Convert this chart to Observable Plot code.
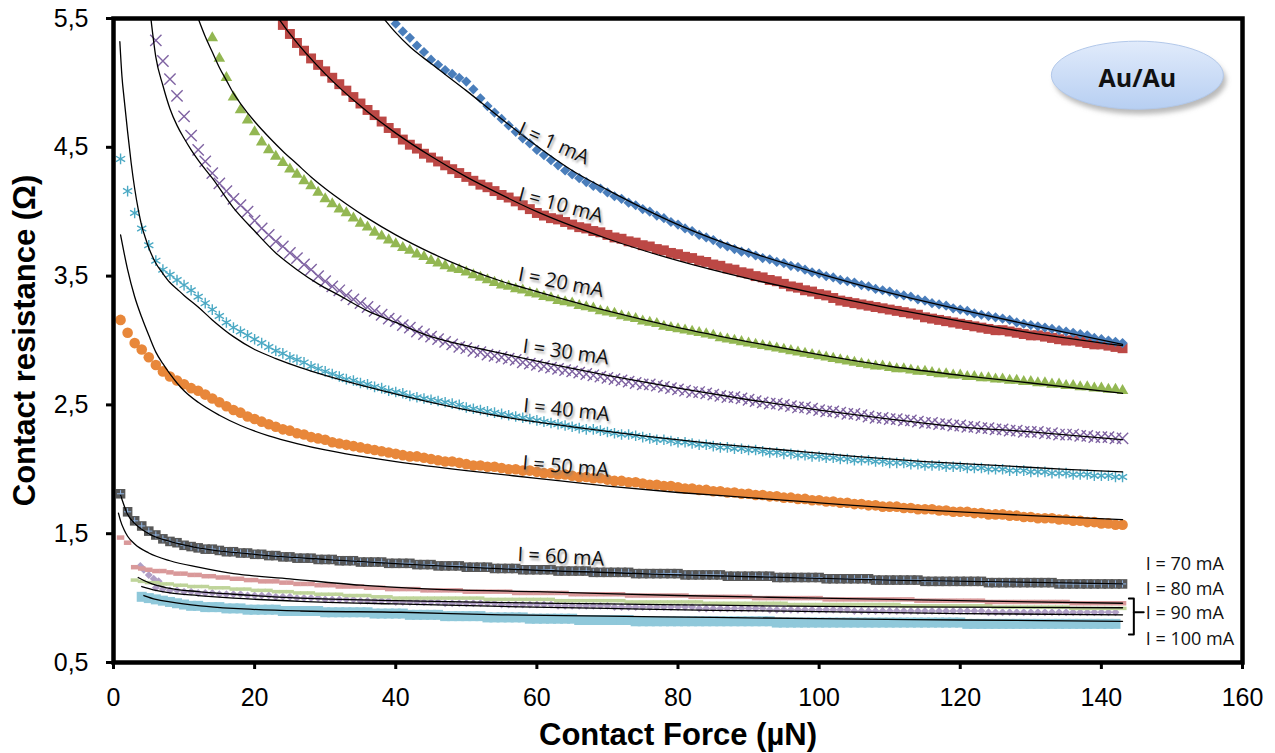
<!DOCTYPE html>
<html><head><meta charset="utf-8">
<script src="https://cdn.jsdelivr.net/npm/d3@7"></script>
<script src="https://cdn.jsdelivr.net/npm/@observablehq/plot@0.6"></script>
<style>body{margin:0;background:#fff;}#chart{width:1275px;height:753px;}</style>
</head><body><div id="chart"></div>
<script>
// ---- axis ticks ----
const xTicks = [0, 20, 40, 60, 80, 100, 120, 140, 160];
const yTicks = [0.5, 1.5, 2.5, 3.5, 4.5, 5.5];
const yTickLabels = ["0,5", "1,5", "2,5", "3,5", "4,5", "5,5"];

// ---- measured series (y values at 1 µN steps from the start force) ----
const s1Start = 40;   // I = 1 mA
const s1 = [5.46,5.40,5.35,5.29,5.24,5.18,5.14,5.10,5.07,5.04,5.01,4.95,4.88,4.82,4.77,4.72,4.67,4.62,4.57,4.53,4.48,4.44,4.40,4.36,4.32,4.29,4.26,4.23,4.20,4.18,4.15,4.12,4.10,4.07,4.05,4.02,4.00,3.97,3.95,3.92,3.90,3.87,3.85,3.82,3.80,3.78,3.75,3.73,3.71,3.69,3.68,3.66,3.64,3.63,3.61,3.60,3.58,3.57,3.55,3.53,3.52,3.50,3.49,3.47,3.46,3.45,3.43,3.42,3.40,3.39,3.38,3.36,3.35,3.34,3.32,3.31,3.29,3.28,3.27,3.25,3.24,3.23,3.21,3.20,3.19,3.18,3.17,3.16,3.14,3.13,3.12,3.11,3.10,3.09,3.08,3.07,3.06,3.05,3.04,3.02,3.01,3.00,2.99,2.98];
const s10Start = 24;  // I = 10 mA
const s10 = [5.45,5.38,5.31,5.25,5.19,5.14,5.09,5.04,4.99,4.94,4.89,4.84,4.79,4.75,4.70,4.65,4.61,4.56,4.52,4.49,4.45,4.42,4.39,4.36,4.33,4.30,4.27,4.24,4.21,4.19,4.16,4.13,4.11,4.08,4.05,4.02,3.99,3.97,3.95,3.94,3.92,3.90,3.88,3.87,3.85,3.84,3.82,3.80,3.79,3.77,3.76,3.74,3.73,3.71,3.70,3.68,3.67,3.65,3.64,3.62,3.61,3.59,3.58,3.56,3.55,3.53,3.52,3.50,3.49,3.47,3.46,3.44,3.42,3.41,3.39,3.38,3.36,3.35,3.33,3.31,3.30,3.29,3.28,3.27,3.26,3.25,3.24,3.23,3.22,3.21,3.20,3.18,3.17,3.16,3.15,3.14,3.13,3.12,3.11,3.10,3.09,3.08,3.08,3.07,3.06,3.05,3.04,3.04,3.03,3.02,3.01,3.00,3.00,2.99,2.98,2.97,2.97,2.96,2.95,2.94];
const s20Start = 14;  // I = 20 mA
const s20 = [5.35,5.19,5.04,4.89,4.79,4.71,4.62,4.54,4.48,4.43,4.38,4.33,4.29,4.24,4.20,4.15,4.10,4.06,4.02,3.99,3.95,3.91,3.88,3.84,3.81,3.78,3.75,3.72,3.70,3.67,3.65,3.62,3.60,3.58,3.56,3.55,3.53,3.51,3.49,3.47,3.45,3.43,3.42,3.40,3.39,3.37,3.36,3.34,3.33,3.31,3.30,3.29,3.27,3.26,3.25,3.23,3.22,3.21,3.19,3.18,3.17,3.15,3.14,3.13,3.11,3.10,3.09,3.08,3.07,3.06,3.05,3.04,3.02,3.01,3.00,2.99,2.98,2.97,2.96,2.95,2.94,2.93,2.92,2.91,2.90,2.89,2.88,2.87,2.86,2.85,2.84,2.83,2.82,2.81,2.80,2.80,2.79,2.78,2.78,2.77,2.76,2.76,2.75,2.74,2.74,2.73,2.73,2.72,2.72,2.71,2.71,2.70,2.70,2.69,2.69,2.68,2.68,2.67,2.67,2.66,2.66,2.65,2.65,2.64,2.64,2.63,2.63,2.62,2.62,2.61];
const s30Start = 6;   // I = 30 mA
const s30 = [5.33,5.17,5.03,4.90,4.74,4.59,4.48,4.39,4.30,4.22,4.16,4.10,4.05,4.00,3.93,3.87,3.82,3.77,3.73,3.68,3.64,3.59,3.55,3.50,3.46,3.42,3.39,3.35,3.32,3.29,3.26,3.23,3.20,3.17,3.15,3.12,3.10,3.07,3.05,3.03,3.01,2.99,2.97,2.95,2.94,2.92,2.91,2.89,2.88,2.87,2.86,2.85,2.83,2.82,2.81,2.80,2.79,2.78,2.77,2.76,2.75,2.74,2.73,2.72,2.71,2.70,2.69,2.68,2.67,2.66,2.66,2.65,2.64,2.63,2.62,2.61,2.60,2.60,2.59,2.58,2.57,2.56,2.56,2.55,2.54,2.53,2.52,2.51,2.51,2.50,2.49,2.48,2.48,2.47,2.46,2.45,2.45,2.44,2.43,2.43,2.42,2.41,2.40,2.40,2.39,2.39,2.38,2.38,2.37,2.36,2.36,2.35,2.35,2.34,2.34,2.33,2.33,2.32,2.32,2.31,2.31,2.30,2.30,2.29,2.29,2.29,2.28,2.28,2.27,2.27,2.27,2.26,2.26,2.25,2.25,2.25,2.24,2.24];
const s40Start = 1;   // I = 40 mA
const s40 = [4.41,4.16,3.99,3.87,3.74,3.62,3.55,3.51,3.47,3.43,3.39,3.34,3.29,3.24,3.19,3.14,3.10,3.07,3.04,3.01,2.98,2.95,2.92,2.90,2.87,2.85,2.83,2.80,2.78,2.76,2.74,2.72,2.70,2.69,2.67,2.66,2.64,2.63,2.61,2.60,2.59,2.57,2.56,2.55,2.54,2.53,2.52,2.51,2.50,2.48,2.47,2.46,2.45,2.44,2.43,2.42,2.41,2.40,2.39,2.38,2.37,2.36,2.35,2.34,2.33,2.32,2.31,2.31,2.30,2.29,2.28,2.27,2.27,2.26,2.25,2.24,2.23,2.23,2.22,2.21,2.21,2.20,2.19,2.19,2.18,2.17,2.17,2.16,2.16,2.15,2.15,2.14,2.13,2.13,2.12,2.12,2.11,2.11,2.10,2.10,2.09,2.09,2.08,2.08,2.07,2.07,2.07,2.06,2.06,2.05,2.05,2.05,2.04,2.04,2.03,2.03,2.03,2.02,2.02,2.02,2.01,2.01,2.01,2.00,2.00,2.00,1.99,1.99,1.99,1.98,1.98,1.98,1.97,1.97,1.97,1.96,1.96,1.96,1.95,1.95,1.95,1.94,1.94];
const s50Start = 1;   // I = 50 mA
const s50 = [3.16,3.06,2.98,2.93,2.87,2.81,2.76,2.72,2.69,2.66,2.63,2.61,2.58,2.55,2.52,2.49,2.46,2.44,2.41,2.39,2.37,2.35,2.33,2.31,2.30,2.28,2.27,2.25,2.24,2.23,2.21,2.20,2.19,2.18,2.17,2.16,2.15,2.14,2.13,2.12,2.11,2.10,2.10,2.09,2.08,2.07,2.06,2.06,2.05,2.04,2.03,2.03,2.02,2.02,2.01,2.00,2.00,1.99,1.99,1.98,1.97,1.97,1.96,1.96,1.95,1.94,1.94,1.93,1.93,1.92,1.91,1.91,1.90,1.90,1.89,1.88,1.88,1.87,1.87,1.86,1.85,1.85,1.84,1.84,1.83,1.83,1.82,1.82,1.81,1.81,1.80,1.80,1.79,1.79,1.78,1.78,1.77,1.77,1.76,1.76,1.75,1.75,1.74,1.74,1.73,1.73,1.72,1.72,1.71,1.71,1.71,1.70,1.70,1.69,1.69,1.69,1.68,1.68,1.67,1.67,1.67,1.66,1.66,1.65,1.65,1.65,1.64,1.64,1.63,1.63,1.62,1.62,1.62,1.61,1.61,1.60,1.60,1.59,1.59,1.58,1.58,1.57,1.57];
const s60Start = 1;   // I = 60 mA
const s60 = [1.81,1.67,1.60,1.56,1.52,1.49,1.46,1.44,1.43,1.41,1.40,1.39,1.38,1.38,1.37,1.36,1.36,1.35,1.35,1.34,1.34,1.33,1.33,1.32,1.32,1.31,1.31,1.31,1.30,1.30,1.30,1.29,1.29,1.29,1.28,1.28,1.28,1.28,1.27,1.27,1.27,1.27,1.26,1.26,1.26,1.25,1.25,1.25,1.25,1.24,1.24,1.24,1.24,1.23,1.23,1.23,1.23,1.22,1.22,1.22,1.22,1.22,1.21,1.21,1.21,1.21,1.21,1.20,1.20,1.20,1.20,1.20,1.20,1.19,1.19,1.19,1.19,1.19,1.19,1.19,1.18,1.18,1.18,1.18,1.18,1.18,1.17,1.17,1.17,1.17,1.17,1.17,1.17,1.16,1.16,1.16,1.16,1.16,1.16,1.16,1.15,1.15,1.15,1.15,1.15,1.15,1.15,1.14,1.14,1.14,1.14,1.14,1.14,1.14,1.13,1.13,1.13,1.13,1.13,1.13,1.13,1.13,1.13,1.12,1.12,1.12,1.12,1.12,1.12,1.12,1.12,1.12,1.12,1.11,1.11,1.11,1.11,1.11,1.11,1.11,1.11,1.11,1.11];
const s70Start = 1;   // I = 70 mA
const s70 = [1.47,1.43,1.24,1.23,1.22,1.21,1.21,1.20,1.19,1.19,1.18,1.18,1.17,1.17,1.16,1.16,1.15,1.15,1.14,1.14,1.13,1.13,1.13,1.12,1.12,1.11,1.11,1.11,1.10,1.10,1.10,1.09,1.09,1.09,1.09,1.08,1.08,1.08,1.07,1.07,1.07,1.07,1.07,1.06,1.06,1.06,1.06,1.06,1.06,1.05,1.05,1.05,1.05,1.05,1.05,1.05,1.04,1.04,1.04,1.04,1.04,1.04,1.04,1.04,1.03,1.03,1.03,1.03,1.03,1.03,1.03,1.03,1.02,1.02,1.02,1.02,1.02,1.02,1.02,1.02,1.02,1.01,1.01,1.01,1.01,1.01,1.01,1.01,1.01,1.01,1.00,1.00,1.00,1.00,1.00,1.00,1.00,1.00,1.00,1.00,0.99,0.99,0.99,0.99,0.99,0.99,0.99,0.99,0.99,0.99,0.99,0.99,0.99,0.98,0.98,0.98,0.98,0.98,0.98,0.98,0.98,0.98,0.98,0.97,0.97,0.97,0.97,0.97,0.97,0.97,0.97,0.97,0.97,0.97,0.97,0.96,0.96,0.96,0.96,0.96,0.96,0.96,0.96];
const s80Start = 3;   // I = 80 mA
const s80 = [1.14,1.13,1.12,1.12,1.11,1.11,1.10,1.10,1.09,1.09,1.09,1.08,1.08,1.08,1.07,1.07,1.07,1.06,1.06,1.06,1.05,1.05,1.05,1.04,1.04,1.04,1.03,1.03,1.03,1.03,1.02,1.02,1.02,1.02,1.01,1.01,1.01,1.00,1.00,1.00,1.00,1.00,1.00,1.00,1.00,1.00,1.00,1.00,1.00,1.00,0.99,0.99,0.99,0.99,0.99,0.99,0.99,0.99,0.99,0.99,0.98,0.98,0.98,0.98,0.98,0.98,0.98,0.98,0.98,0.98,0.97,0.97,0.97,0.97,0.97,0.97,0.97,0.97,0.97,0.97,0.97,0.96,0.96,0.96,0.96,0.96,0.96,0.96,0.96,0.96,0.96,0.96,0.96,0.95,0.95,0.95,0.95,0.95,0.95,0.95,0.95,0.95,0.95,0.95,0.95,0.95,0.95,0.95,0.95,0.94,0.94,0.94,0.94,0.94,0.94,0.94,0.94,0.94,0.94,0.94,0.94,0.94,0.93,0.93,0.93,0.93,0.93,0.93,0.93,0.93,0.93,0.93,0.93,0.92,0.92,0.92,0.92,0.92,0.92,0.92,0.92];
const s90HeadX = [3.8, 4.3, 5.0, 5.7, 6.4];  // I = 90 mA, first readings
const s90HeadY = [1.25, 1.22, 1.18, 1.15, 1.13];
const s90Start = 6;
const s90 = [1.08,1.07,1.06,1.06,1.05,1.05,1.04,1.04,1.04,1.03,1.03,1.03,1.03,1.02,1.02,1.02,1.02,1.01,1.01,1.01,1.00,1.00,1.00,1.00,0.99,0.99,0.99,0.99,0.99,0.98,0.98,0.98,0.98,0.98,0.97,0.97,0.97,0.97,0.97,0.97,0.97,0.96,0.96,0.96,0.96,0.96,0.96,0.96,0.96,0.95,0.95,0.95,0.95,0.95,0.95,0.95,0.95,0.94,0.94,0.94,0.94,0.94,0.94,0.94,0.94,0.93,0.93,0.93,0.93,0.93,0.93,0.93,0.93,0.93,0.93,0.93,0.93,0.92,0.92,0.92,0.92,0.92,0.92,0.92,0.92,0.92,0.92,0.91,0.91,0.91,0.91,0.91,0.91,0.91,0.91,0.91,0.91,0.91,0.91,0.90,0.90,0.90,0.90,0.90,0.90,0.90,0.90,0.90,0.90,0.90,0.90,0.90,0.90,0.90,0.90,0.90,0.90,0.90,0.89,0.89,0.89,0.89,0.89,0.89,0.89,0.89,0.89,0.89,0.89,0.89,0.89,0.89,0.89,0.89,0.89,0.89,0.89];
const s100Start = 4;  // I = 100 mA
const s100 = [1.01,1.00,0.99,0.98,0.97,0.96,0.95,0.94,0.94,0.93,0.93,0.93,0.92,0.92,0.92,0.91,0.91,0.91,0.91,0.91,0.90,0.90,0.90,0.90,0.90,0.90,0.89,0.89,0.89,0.89,0.89,0.89,0.89,0.88,0.88,0.88,0.88,0.88,0.87,0.87,0.87,0.87,0.87,0.86,0.86,0.86,0.86,0.86,0.86,0.85,0.85,0.85,0.85,0.85,0.85,0.84,0.84,0.84,0.84,0.84,0.84,0.84,0.83,0.83,0.83,0.83,0.83,0.83,0.83,0.83,0.82,0.82,0.82,0.82,0.82,0.82,0.82,0.82,0.82,0.82,0.82,0.82,0.82,0.82,0.82,0.82,0.82,0.82,0.82,0.82,0.81,0.81,0.81,0.81,0.81,0.81,0.81,0.81,0.81,0.81,0.81,0.81,0.81,0.81,0.81,0.81,0.81,0.81,0.81,0.81,0.81,0.81,0.81,0.81,0.81,0.81,0.81,0.80,0.80,0.80,0.80,0.80,0.80,0.80,0.80,0.80,0.80,0.80,0.80,0.80,0.80,0.80,0.80,0.80,0.80,0.80,0.80,0.80,0.80];

// ---- fitted curves (force, resistance) ----
const f1X = [38.3,40,42,45,50,55,60,65,70,80,90,100,110,120,130,143];
const f1Y = [5.5,5.39,5.28,5.15,4.94,4.72,4.51,4.32,4.17,3.90,3.69,3.52,3.37,3.24,3.12,2.97];
const f10X = [23.4,25,30,35,40,45,50,55,60,70,80,90,100,110,120,130,143];
const f10Y = [5.5,5.38,5.07,4.82,4.61,4.43,4.27,4.13,4.00,3.79,3.62,3.48,3.36,3.25,3.15,3.06,2.96];
const f20X = [12,13,14,15,16,17,18,20,22,24,26,28,30,33,36,40,45,50,55,60,70,80,90,100,110,120,130,143];
const f20Y = [5.5,5.36,5.24,5.12,5.02,4.92,4.84,4.70,4.58,4.47,4.37,4.27,4.18,4.06,3.95,3.82,3.68,3.56,3.46,3.38,3.23,3.10,2.99,2.89,2.80,2.73,2.67,2.59];
const f30X = [5.3,6,7,8,9,10,11,12,14,17,20,23,26,29,32,36,40,45,50,55,60,70,80,90,100,110,120,130,143];
const f30Y = [5.5,5.2,4.98,4.80,4.67,4.57,4.48,4.40,4.26,4.03,3.85,3.68,3.55,3.44,3.35,3.23,3.14,3.03,2.96,2.90,2.84,2.73,2.63,2.54,2.46,2.39,2.33,2.29,2.23];
const f40X = [0.9,1.2,1.5,2,2.5,3,3.5,4,4.5,5,6,7,8,9,10,12,14,17,20,23,26.5,30,36,45,55,65,75,85,95,105,115,125,135,143];
const f40Y = [5.32,5.05,4.88,4.62,4.38,4.18,4.02,3.89,3.80,3.72,3.60,3.52,3.45,3.40,3.35,3.26,3.16,3.03,2.93,2.86,2.79,2.73,2.64,2.52,2.41,2.33,2.26,2.20,2.15,2.10,2.06,2.03,2.00,1.98];
const f50X = [1,1.5,2,3,4,5,6,7,8,9,10,12,15,18,22,26,30,34,40,50,60,70,80,90,100,110,120,130,143];
const f50Y = [3.82,3.68,3.55,3.34,3.18,3.04,2.91,2.82,2.74,2.67,2.61,2.52,2.42,2.34,2.26,2.20,2.15,2.11,2.06,1.99,1.93,1.87,1.82,1.78,1.74,1.70,1.67,1.64,1.61];
const f60X = [1,2,3,5,8,12,20,30,50,80,110,143];
const f60Y = [1.80,1.65,1.58,1.50,1.44,1.39,1.34,1.30,1.24,1.18,1.14,1.11];
const f70X = [0.7,1,1.5,2,3,5,8,12,17,25,35,45,60,80,100,120,143];
const f70Y = [1.66,1.60,1.53,1.48,1.42,1.35,1.29,1.24,1.19,1.15,1.10,1.07,1.05,1.02,1.00,0.98,0.96];
const f80X = [3.5,5,7.6,12,17,26.5,40,55,70,85,100,120,143];
const f80Y = [1.16,1.12,1.08,1.05,1.03,1.00,0.98,0.965,0.955,0.945,0.935,0.93,0.925];
const f90X = [4,6,8,12,17,26.5,40,55,70,85,100,120,143];
const f90Y = [1.09,1.06,1.04,1.02,1.0,0.975,0.955,0.935,0.92,0.905,0.895,0.88,0.87];
const f100X = [4.3,6,8,12.3,17,26.5,40.7,55,70,85,100,120,143];
const f100Y = [1.02,0.99,0.97,0.94,0.92,0.90,0.89,0.87,0.86,0.85,0.84,0.83,0.82];

// ---- annotations ----
const curveLabels = ["I = 1 mA","I = 10 mA","I = 20 mA","I = 30 mA","I = 40 mA","I = 50 mA","I = 60 mA"];
const curveLabelX = [62.4, 63.4, 63.4, 64.1, 64.2, 64.1, 63.4];
const curveLabelY = [4.53, 4.05, 3.45, 2.91, 2.46, 2.02, 1.32];
const curveLabelAngle = [24, 15, 11, 8, 6, 5, 3];
const sideLabels = ["I = 70 mA","I = 80 mA","I = 90 mA","I = 100 mA"];
const sideLabelX = [146.3, 146.3, 146.3, 146.3];
const sideLabelY = [1.26, 1.07, 0.885, 0.68];
const bracketX = [143.9, 144.6, 144.6, 143.9];
const bracketY = [0.997, 0.997, 0.717, 0.717];
const bracketTickX = [144.6, 146.0];
const bracketTickY = [0.89, 0.89];
const badgeText = "Au/Au";
const badgeX = 145.1, badgeY = 5.06;

// ---- helpers ----
const pts = (start, ys) => ys.map((y, i) => ({x: start + i, y}));
const xy = (xs, ys) => xs.map((x, i) => ({x, y: ys[i]}));
const rectSym = (w, h) => ({draw(c){ c.moveTo(-w/2,-h/2); c.lineTo(w/2,-h/2); c.lineTo(w/2,h/2); c.lineTo(-w/2,h/2); c.closePath(); }});
const plusSym = {draw(c){ c.moveTo(-3.6,0); c.lineTo(3.6,0); c.moveTo(0,-3.6); c.lineTo(0,3.6); }};
const ellipseSym = {draw(c){ const rx=86, ry=34, k=0.5523;
  c.moveTo(rx,0); c.bezierCurveTo(rx,k*ry,k*rx,ry,0,ry); c.bezierCurveTo(-k*rx,ry,-rx,k*ry,-rx,0);
  c.bezierCurveTo(-rx,-k*ry,-k*rx,-ry,0,-ry); c.bezierCurveTo(k*rx,-ry,rx,-k*ry,rx,0); c.closePath(); }};

const fit = (xs, ys) => Plot.line(xy(xs, ys), {x: "x", y: "y", stroke: "#000", strokeWidth: 1.3, curve: "monotone-x", clip: true});
const labelRows = curveLabels.map((t, i) => ({t, x: curveLabelX[i], y: curveLabelY[i], a: curveLabelAngle[i]}));
const sideRows = sideLabels.map((t, i) => ({t, x: sideLabelX[i], y: sideLabelY[i]}));
const s90Data = xy(s90HeadX, s90HeadY).concat(pts(s90Start, s90));

const chart = Plot.plot({
  width: 1275, height: 753,
  marginLeft: 113, marginRight: 33, marginTop: 18, marginBottom: 91,
  style: {fontFamily: "'Liberation Sans', Arial, sans-serif", color: "#000", background: "#fff", overflow: "visible"},
  x: {domain: [0, 160]},
  y: {domain: [0.5, 5.5]},
  marks: [
    Plot.axisX({ticks: xTicks, tickSize: 7, tickPadding: 19, strokeWidth: 3, fontSize: 25, label: null}),
    Plot.axisY({ticks: yTicks, tickFormat: d => yTickLabels[yTicks.indexOf(d)], tickSize: 7, tickPadding: 18, strokeWidth: 3, fontSize: 25, label: null}),
    // markers
    Plot.dot(pts(s100Start, s100), {x: "x", y: "y", symbol: rectSym(10, 10), fill: "#8FC8DA", clip: true}),
    Plot.dot(s90Data, {x: "x", y: "y", symbol: "diamond2", r: 3.6, fill: "#B09FC6", clip: true}),
    Plot.dot(pts(s80Start, s80), {x: "x", y: "y", symbol: rectSym(8, 3.5), fill: "#BFD49A", clip: true}),
    Plot.dot(pts(s70Start, s70), {x: "x", y: "y", symbol: rectSym(7.5, 4.5), fill: "#D9999A", clip: true}),
    Plot.dot(pts(s60Start, s60), {x: "x", y: "y", symbol: "square", r: 5.4, fill: "#575757", clip: true}),
    Plot.dot(pts(s60Start, s60), {x: "x", y: "y", symbol: plusSym, stroke: "#8FB4E3", strokeWidth: 1, fill: "none", clip: true}),
    Plot.dot(pts(s50Start, s50), {x: "x", y: "y", symbol: "circle", r: 5.3, fill: "#E8873A", clip: true}),
    Plot.dot(pts(s40Start, s40), {x: "x", y: "y", symbol: "asterisk", r: 5, stroke: "#4BA9C4", strokeWidth: 1.4, clip: true}),
    Plot.dot(pts(s30Start, s30), {x: "x", y: "y", symbol: "times", r: 5.2, stroke: "#7F63A2", strokeWidth: 1.4, clip: true}),
    Plot.dot(pts(s20Start, s20), {x: "x", y: "y", symbol: "triangle", r: 4.3, fill: "#93B752", clip: true}),
    Plot.dot(pts(s10Start, s10), {x: "x", y: "y", symbol: "square", r: 5.6, fill: "#BC4845", clip: true}),
    Plot.dot(pts(s1Start, s1), {x: "x", y: "y", symbol: "diamond2", r: 4.6, fill: "#4A7EBB", clip: true}),
    // fits
    fit(f1X, f1Y), fit(f10X, f10Y), fit(f20X, f20Y), fit(f30X, f30Y), fit(f40X, f40Y),
    fit(f50X, f50Y), fit(f60X, f60Y), fit(f70X, f70Y), fit(f80X, f80Y), fit(f90X, f90Y), fit(f100X, f100Y),
    // curve labels with shadow
    Plot.text(labelRows, {x: "x", y: "y", text: "t", rotate: "a", dx: 1.5, dy: 2.5, fontSize: 20, fontFamily: "'Open Sans', sans-serif", fill: "#7a7a7a", fillOpacity: 0.7}),
    Plot.text(labelRows, {x: "x", y: "y", text: "t", rotate: "a", fontSize: 20, fontFamily: "'Open Sans', sans-serif", fill: "#111"}),
    // side labels and bracket
    Plot.text(sideRows, {x: "x", y: "y", text: "t", textAnchor: "start", fontSize: 18, fontFamily: "'Open Sans', sans-serif", fill: "#111"}),
    Plot.line(xy(bracketX, bracketY), {x: "x", y: "y", stroke: "#000", strokeWidth: 2}),
    Plot.line(xy(bracketTickX, bracketTickY), {x: "x", y: "y", stroke: "#000", strokeWidth: 2}),
    // badge
    Plot.dot([{x: badgeX, y: badgeY}], {x: "x", y: "y", symbol: ellipseSym, dx: 3, dy: 5, fill: "#8c8c8c", fillOpacity: 0.6}),
    Plot.dot([{x: badgeX, y: badgeY}], {x: "x", y: "y", symbol: ellipseSym, fill: "url(#auGrad)", stroke: "#B2C8EA", strokeWidth: 1}),
    Plot.text([{x: badgeX, y: badgeY}], {x: "x", y: "y", text: () => badgeText, dy: 4, fontSize: 25, fontWeight: "bold", fontFamily: "'Open Sans', sans-serif", fill: "#111"}),
    // frame and axis titles
    Plot.frame({stroke: "#000", strokeWidth: 4.5}),
    Plot.text(["Contact Force (µN)"], {frameAnchor: "bottom", text: d => d, dy: 73, lineAnchor: "middle", fontSize: 31, fontWeight: "bold"}),
    Plot.text(["Contact resistance (Ω)"], {frameAnchor: "left", text: d => d, dx: -88, rotate: -90, textAnchor: "middle", lineAnchor: "middle", fontSize: 31, fontWeight: "bold"})
  ]
});

const svg = d3.select(chart.tagName === "svg" ? chart : chart.querySelector("svg"));
svg.insert("defs", ":first-child").html(
  '<linearGradient id="auGrad" x1="0" y1="0" x2="0" y2="1"><stop offset="0" stop-color="#E1EBFB"/><stop offset="1" stop-color="#B7CFF2"/></linearGradient>' +
  '<filter id="softBlur" x="-20%" y="-40%" width="140%" height="180%"><feGaussianBlur stdDeviation="2.5"/></filter>' +
  '<filter id="txtBlur" x="-10%" y="-40%" width="120%" height="180%"><feGaussianBlur stdDeviation="1"/></filter>');
svg.selectAll('g[fill="#8c8c8c"]').attr("filter", "url(#softBlur)");
svg.selectAll('g[fill="#7a7a7a"]').attr("filter", "url(#txtBlur)");
document.getElementById("chart").appendChild(chart);
</script>
</body></html>
